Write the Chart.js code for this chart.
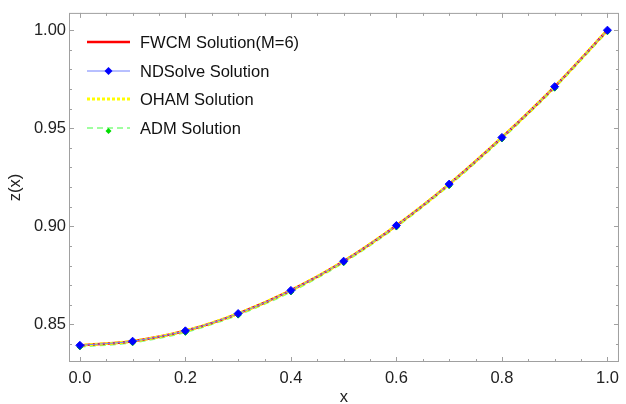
<!DOCTYPE html>
<html>
<head>
<meta charset="utf-8">
<script src="https://cdn.jsdelivr.net/npm/chart.js"></script>
<style>
  html, body { margin: 0; padding: 0; background: #fff; }
  #wrap { width: 626px; height: 404px; }
</style>
</head>
<body>
<div id="wrap"><canvas id="plot-canvas" width="626" height="404"></canvas></div>
<script>
// x nodes and solution values z(x)
const xs = [0.0, 0.1, 0.2, 0.3, 0.4, 0.5, 0.6, 0.7, 0.8, 0.9, 1.0];
const fwcm = [0.8393, 0.8414, 0.8467, 0.8555, 0.8673, 0.8822, 0.9004, 0.9215, 0.9453, 0.9712, 1.0000];
const ndsolve = [0.8393, 0.8414, 0.8467, 0.8555, 0.8673, 0.8822, 0.9004, 0.9215, 0.9453, 0.9712, 1.0000];
const oham = [0.8393, 0.8414, 0.8467, 0.8555, 0.8673, 0.8822, 0.9004, 0.9215, 0.9453, 0.9712, 1.0000];
const adm = [0.8385, 0.8406, 0.8459, 0.8547, 0.8665, 0.8814, 0.8996, 0.9207, 0.9445, 0.9704, 0.9992];

const xTicks = [0.0, 0.2, 0.4, 0.6, 0.8, 1.0];
const yTicks = [0.85, 0.90, 0.95, 1.00];
const xMinor = [0, 0.05, 0.1, 0.15, 0.2, 0.25, 0.3, 0.35, 0.4, 0.45, 0.5, 0.55, 0.6, 0.65, 0.7, 0.75, 0.8, 0.85, 0.9, 0.95, 1.0];
const yMinor = [0.84, 0.85, 0.86, 0.87, 0.88, 0.89, 0.90, 0.91, 0.92, 0.93, 0.94, 0.95, 0.96, 0.97, 0.98, 0.99, 1.00];

const FONT = "'Liberation Sans', Arial, sans-serif";
const FRAME = "#a0a0a0";

function pts(ys) {
    return xs.map((x, i) => ({ x: x, y: ys[i] }));
}

// Box around the plot with inward ticks on all four sides
const framePlugin = {
    id: 'frame',
    beforeDatasetsDraw(chart) {
        const { ctx, chartArea: a } = chart;
        const sx = chart.scales.x, sy = chart.scales.y;
        ctx.save();
        ctx.strokeStyle = FRAME;
        ctx.lineWidth = 1;
        ctx.strokeRect(a.left + 0.5, a.top + 0.5, a.right - a.left - 1, a.bottom - a.top - 1);
        ctx.beginPath();
        xMinor.forEach(v => {
            const px = Math.round(sx.getPixelForValue(v)) + 0.5;
            const len = xTicks.some(t => Math.abs(t - v) < 1e-9) ? 5 : 3;
            ctx.moveTo(px, a.bottom); ctx.lineTo(px, a.bottom - len);
            ctx.moveTo(px, a.top); ctx.lineTo(px, a.top + len);
        });
        yMinor.forEach(v => {
            const py = Math.round(sy.getPixelForValue(v)) + 0.5;
            const len = yTicks.some(t => Math.abs(t - v) < 1e-9) ? 5 : 3;
            ctx.moveTo(a.left, py); ctx.lineTo(a.left + len, py);
            ctx.moveTo(a.right, py); ctx.lineTo(a.right - len, py);
        });
        ctx.stroke();
        ctx.restore();
    }
};

function diamond(ctx, x, y, r, color) {
    ctx.beginPath();
    ctx.moveTo(x, y - r); ctx.lineTo(x + r, y); ctx.lineTo(x, y + r); ctx.lineTo(x - r, y);
    ctx.closePath();
    ctx.fillStyle = color;
    ctx.fill();
}

// Legend drawn inside the plot, line sample plus marker
const legendPlugin = {
    id: 'insideLegend',
    afterDraw(chart) {
        const ctx = chart.ctx;
        const rows = [42, 71, 99, 128];
        ctx.save();
        chart.data.datasets.forEach((ds, i) => {
            const y = rows[i];
            ctx.beginPath();
            ctx.setLineDash(ds.borderDash || []);
            ctx.strokeStyle = ds.borderColor;
            ctx.lineWidth = ds.borderWidth;
            ctx.moveTo(87, y); ctx.lineTo(130, y);
            ctx.stroke();
            ctx.setLineDash([]);
            if (ds.pointRadius > 0) {
                diamond(ctx, 108.5, y + (ds.legendDrop || 0), ds.pointRadius, ds.pointBackgroundColor);
            }
            ctx.fillStyle = "#111";
            ctx.font = "16.5px " + FONT;
            ctx.textAlign = "left";
            ctx.textBaseline = "middle";
            ctx.fillText(ds.label, 140, y + 1);
        });
        ctx.restore();
    }
};

new Chart("plot-canvas", {
    type: 'line',
    data: {
        datasets: [
            {
                label: 'FWCM Solution(M=6)',
                data: pts(fwcm),
                borderColor: '#ff0000',
                borderWidth: 2.5,
                pointRadius: 0,
                order: 4,
            },
            {
                label: 'NDSolve Solution',
                data: pts(ndsolve),
                borderColor: '#7080ff',
                borderWidth: 1,
                pointStyle: 'rectRot',
                pointRadius: 4,
                pointBackgroundColor: '#0000ff',
                pointBorderColor: '#0000ff',
                pointBorderWidth: 1,
                order: 1,
            },
            {
                label: 'OHAM Solution',
                data: pts(oham),
                borderColor: '#ffff00',
                borderWidth: 3,
                borderDash: [3, 2],
                pointRadius: 0,
                order: 3,
            },
            {
                label: 'ADM Solution',
                data: pts(adm),
                borderColor: '#80ff80',
                borderWidth: 1.5,
                borderDash: [6, 4],
                pointStyle: 'rectRot',
                pointRadius: 3,
                pointBackgroundColor: '#00dd00',
                pointBorderColor: '#00dd00',
                pointBorderWidth: 1,
                legendDrop: 3,
                order: 5,
            },
        ],
    },
    options: {
        responsive: false,
        animation: false,
        devicePixelRatio: 1,
        layout: { padding: { top: 12, right: 1, left: 0, bottom: 0 } },
        elements: { line: { tension: 0.3 } },
        plugins: {
            legend: { display: false },
            tooltip: { enabled: false },
        },
        scales: {
            x: {
                type: 'linear',
                min: -0.0206,
                max: 1.0219,
                afterBuildTicks: s => { s.ticks = xTicks.map(v => ({ value: v })); },
                afterFit: s => { s.height = 42; },
                grid: { display: false, drawTicks: false },
                border: { display: false },
                ticks: {
                    padding: 7,
                    color: '#222',
                    font: { family: FONT, size: 16.5 },
                    maxRotation: 0,
                    callback: v => v.toFixed(1),
                },
                title: {
                    display: true,
                    text: 'x',
                    color: '#222',
                    font: { family: FONT, size: 16.5, lineHeight: '12px' },
                    padding: { top: 0, bottom: 1 },
                },
            },
            y: {
                type: 'linear',
                min: 0.8308,
                max: 1.0088,
                afterBuildTicks: s => { s.ticks = yTicks.map(v => ({ value: v })); },
                afterFit: s => { s.width = 69; },
                grid: { display: false, drawTicks: false },
                border: { display: false },
                ticks: {
                    padding: 3,
                    color: '#222',
                    font: { family: FONT, size: 16.5 },
                    callback: v => v.toFixed(2),
                },
                title: {
                    display: true,
                    text: 'z(x)',
                    color: '#222',
                    font: { family: FONT, size: 16.5, lineHeight: '12px' },
                    padding: { top: 9, bottom: 0 },
                },
            },
        },
    },
    plugins: [framePlugin, legendPlugin],
});
</script>
</body>
</html>
